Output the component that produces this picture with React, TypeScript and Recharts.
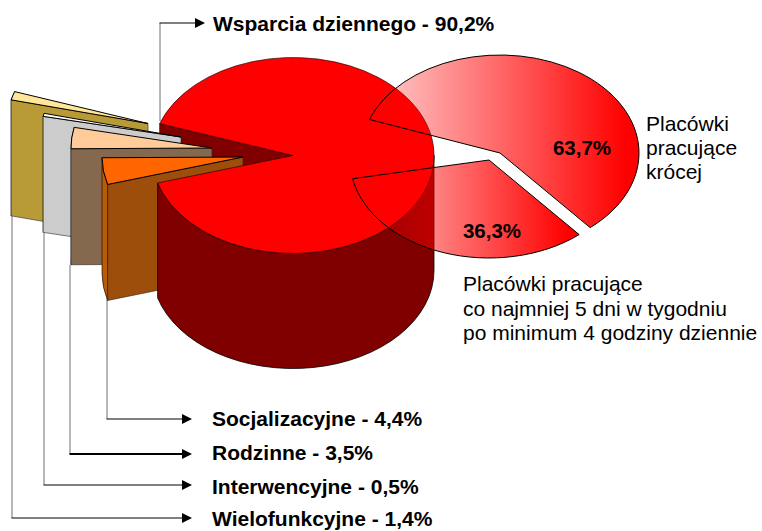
import React from 'react';
import { PieChart, Pie } from 'recharts';

const FONT = '"Liberation Sans", Arial, sans-serif';

// main pie, in drawing order (back-most first)
const mainNames = ['Wielofunkcyjne', 'Interwencyjne', 'Rodzinne', 'Socjalizacyjne', 'Wsparcia dziennego'];
const mainValues = [1.4, 0.5, 3.5, 4.4, 90.2];
const topColors = ['#ffe699', '#ffffff', '#ffcc99', '#ff6600', '#ff0000'];

// breakdown pie
const subNames = ['Placówki pracujące krócej', 'Placówki pracujące co najmniej 5 dni'];
const subValues = [63.7, 36.3];

const wallColors: Record<string, string> = {
  Wielofunkcyjne: '#b89b37',
  Interwencyjne: '#cccccc',
  Rodzinne: '#85694f',
  Socjalizacyjne: '#9c4e0a',
  'Wsparcia dziennego': '#800000',
};
const rimColors: Record<string, string> = {
  Wielofunkcyjne: '#8f7a2a',
  Interwencyjne: '#999999',
  Rodzinne: '#6a533e',
  Socjalizacyjne: '#b85c0a',
};
const explode: Record<string, [number, number]> = {
  Wielofunkcyjne: [-145, -32],
  Interwencyjne: [-112, -18.5],
  Rodzinne: [-81, -7.5],
  Socjalizacyjne: [-50, 1.5],
  [subNames[1]]: [-11, 7],
};
const subLabelPos: Record<string, [number, number]> = {
  [subNames[0]]: [582, 155],
  [subNames[1]]: [492, 238],
};

const K_MAIN = 0.695;
const K_SUB = 0.705;
const DEPTH_MAIN = 115;
const DEPTH_WEDGE = 116;

const mainData = mainNames.map((name, i) => ({ name, value: mainValues[i], fill: topColors[i] }));
const subData = subNames.map((name, i) => ({ name, value: subValues[i], fill: 'url(#subGrad)' }));

const fmt = (v: number) => v.toFixed(1).replace('.', ',') + '%';
const pt = (cx: number, cy: number, r: number, k: number, a: number): [number, number] => [
  cx + r * Math.cos((a * Math.PI) / 180),
  cy - r * k * Math.sin((a * Math.PI) / 180),
];
const P = (p: [number, number]) => `${p[0].toFixed(2)} ${p[1].toFixed(2)}`;

function topPath(cx: number, cy: number, r: number, k: number, a0: number, a1: number) {
  const large = Math.abs(a1 - a0) > 180 ? 1 : 0;
  const sweep = a1 > a0 ? 0 : 1;
  return `M${P([cx, cy])}L${P(pt(cx, cy, r, k, a0))}A${r} ${r * k} 0 ${large} ${sweep} ${P(pt(cx, cy, r, k, a1))}Z`;
}
function rimPath(cx: number, cy: number, r: number, k: number, a0: number, a1: number, d: number) {
  const p0 = pt(cx, cy, r, k, a0);
  const p1 = pt(cx, cy, r, k, a1);
  const large = Math.abs(a1 - a0) > 180 ? 1 : 0;
  return `M${P(p0)}A${r} ${r * k} 0 ${large} 0 ${P(p1)}L${P([p1[0], p1[1] + d])}A${r} ${r * k} 0 ${large} 1 ${P([p0[0], p0[1] + d])}Z`;
}
function radialWall(cx: number, cy: number, p: [number, number], d: number) {
  return `M${P(p)}L${P([cx, cy])}L${P([cx, cy + d])}L${P([p[0], p[1] + d])}Z`;
}

const BackWall = (props: any) => {
  if (props.name !== 'Wsparcia dziennego') return <g />;
  const { cx, cy, outerRadius: r, endAngle } = props;
  return (
    <path
      d={radialWall(cx, cy, pt(cx, cy, r, K_MAIN, endAngle), DEPTH_MAIN)}
      fill={wallColors[props.name]}
      stroke="#400000"
      strokeWidth={0.7}
    />
  );
};

const Solid = (props: any) => {
  const { cx: cx0, cy: cy0, outerRadius: r, startAngle, endAngle, fill, name } = props;
  if (name === 'Wsparcia dziennego') {
    return (
      <g>
        <path d={rimPath(cx0, cy0, r, K_MAIN, startAngle, 360, DEPTH_MAIN)} fill={wallColors[name]} stroke="#000" strokeWidth={0.8} />
        <path d={topPath(cx0, cy0, r, K_MAIN, startAngle, endAngle)} fill={fill} stroke="#300000" strokeWidth={0.7} />
      </g>
    );
  }
  const [dx, dy] = explode[name];
  const cx = cx0 + dx;
  const cy = cy0 + dy;
  const lower = pt(cx, cy, r, K_MAIN, endAngle);
  return (
    <g>
      <path d={rimPath(cx, cy, r, K_MAIN, startAngle, endAngle, DEPTH_WEDGE)} fill={rimColors[name]} stroke="#000" strokeWidth={0.6} />
      <path d={radialWall(cx, cy, lower, DEPTH_WEDGE)} fill={wallColors[name]} stroke="#222" strokeWidth={0.6} />
      <path d={topPath(cx, cy, r, K_MAIN, startAngle, endAngle)} fill={fill} stroke="#000" strokeWidth={1} />
    </g>
  );
};

const SubSlice = (props: any) => {
  const { cx, cy, outerRadius: r, startAngle, endAngle, name } = props;
  const [dx, dy] = explode[name] ?? [0, 0];
  return (
    <path
      d={topPath(cx + dx, cy + dy, r, K_SUB, startAngle, endAngle)}
      fill="url(#subGrad)"
      stroke="#000"
      strokeWidth={1}
    />
  );
};

const Arrow = ({ x, y }: { x: number; y: number }) => (
  <polygon points={`${x},${y} ${x - 10},${y - 5} ${x - 10},${y + 5}`} fill="#000" />
);

const Leader = ({ x, y0, y1, tip, w = 1 }: { x: number; y0: number; y1: number; tip: number; w?: number }) => (
  <g>
    <line x1={x} y1={y0} x2={x} y2={y1} stroke="#707070" strokeWidth={1} />
    <line x1={x - 0.5} y1={y1} x2={tip - 8} y2={y1} stroke="#000" strokeWidth={w} />
    <Arrow x={tip} y={y1} />
  </g>
);

const bold = { fontFamily: FONT, fontWeight: 700, fontSize: 21, fill: '#000' } as const;
const pct = { fontFamily: FONT, fontWeight: 700, fontSize: 20.5, fill: '#000' } as const;
const plain = { fontFamily: FONT, fontSize: 21, fill: '#000' } as const;

const renderSubLabel = (props: any) => {
  const [x, y] = subLabelPos[props.name];
  return (
    <text x={x} y={y} textAnchor="middle" {...pct}>
      {fmt(props.value)}
    </text>
  );
};

const legendRows: [number, number][] = [
  [3, 426],
  [2, 460],
  [1, 494],
  [0, 526],
];

export default function App() {
  return (
    <div style={{ position: 'absolute', left: 0, top: 0, width: 762, height: 531, background: '#fff' }}>
      <PieChart width={762} height={531} margin={{ top: 0, right: 0, bottom: 0, left: 0 }}>
        <defs>
          <linearGradient id="subGrad" x1="0" y1="0" x2="1" y2="0">
            <stop offset="0" stopColor="#ff0000" stopOpacity={0.18} />
            <stop offset="0.95" stopColor="#ff0000" stopOpacity={1} />
            <stop offset="1" stopColor="#ff0000" stopOpacity={1} />
          </linearGradient>
        </defs>

        <Leader x={12} y0={215} y1={518} tip={192} />
        <Leader x={44} y0={233} y1={485} tip={192} />
        <Leader x={70} y0={265} y1={454} tip={192} w={2} />
        <Leader x={107} y0={298} y1={419} tip={192} />
        <Leader x={160} y0={121} y1={23} tip={205} />

        <Pie
          data={mainData}
          dataKey="value"
          nameKey="name"
          cx={293}
          cy={155.5}
          outerRadius={141}
          startAngle={161 + 360}
          endAngle={161}
          isAnimationActive={false}
          shape={BackWall}
          stroke="none"
        />
        <Pie
          data={mainData}
          dataKey="value"
          nameKey="name"
          cx={293}
          cy={155.5}
          outerRadius={141}
          startAngle={161}
          endAngle={521}
          isAnimationActive={false}
          shape={Solid}
          stroke="none"
        />
        <Pie
          data={subData}
          dataKey="value"
          nameKey="name"
          cx={500}
          cy={153}
          outerRadius={139}
          startAngle={160}
          endAngle={-169}
          isAnimationActive={false}
          shape={SubSlice}
          stroke="none"
          label={renderSubLabel}
          labelLine={false}
        />

        <text x={213} y={31} {...bold}>{`${mainNames[4]} - ${fmt(mainValues[4])}`}</text>
        {legendRows.map(([i, y]) => (
          <text key={i} x={212} y={y} {...bold}>{`${mainNames[i]} - ${fmt(mainValues[i])}`}</text>
        ))}

        <text x={646} y={131} {...plain}>Placówki</text>
        <text x={646} y={155} {...plain}>pracujące</text>
        <text x={646} y={179} {...plain}>krócej</text>
        <text x={463} y={291} {...plain}>Placówki pracujące</text>
        <text x={463} y={316} {...plain}>co najmniej 5 dni w tygodniu</text>
        <text x={463} y={340} {...plain}>po minimum 4 godziny dziennie</text>
      </PieChart>
    </div>
  );
}
